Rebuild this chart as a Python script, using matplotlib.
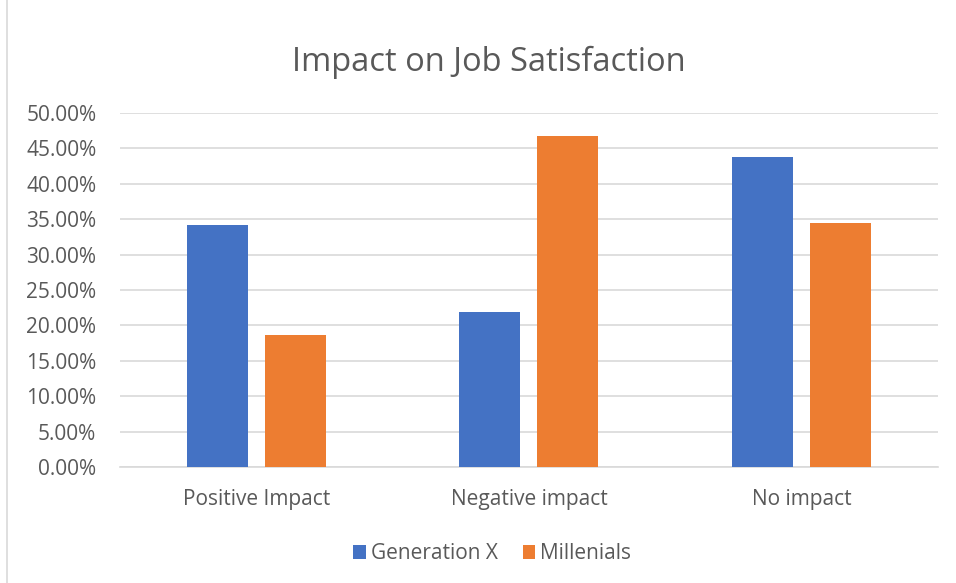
import matplotlib
matplotlib.use("Agg")
import matplotlib.pyplot as plt
import numpy as np
from matplotlib.ticker import FuncFormatter, MultipleLocator
from matplotlib.patches import Rectangle

categories = ["Positive Impact", "Negative impact", "No impact"]
gen_x = [34.2, 21.9, 43.8]
millenials = [18.6, 46.7, 34.5]
series_names = ["Generation X", "Millenials"]

plt.rcParams['font.family'] = ['Open Sans', 'DejaVu Sans']
text_color = "#595959"

fig = plt.figure(figsize=(9.56, 5.83), dpi=100)
ax = fig.add_axes([0.1255, 0.199, 0.8555, 0.607])

x = np.arange(len(categories))
w = 0.224
off = 0.143
ax.bar(x - off, gen_x, width=w, color="#4472C4", label=series_names[0], zorder=3)
ax.bar(x + off, millenials, width=w, color="#ED7D31", label=series_names[1], zorder=3)

ax.set_xlim(-0.5, 2.5)
ax.set_ylim(0, 50)
ax.yaxis.set_major_locator(MultipleLocator(5))
ax.yaxis.set_major_formatter(FuncFormatter(lambda v, p: f"{v:.2f}%"))
ax.grid(axis='y', color="#D9D9D9", linewidth=1.2, zorder=0)
ax.set_xticks(x)
ax.set_xticklabels(categories)
for s in ["top", "right", "left"]:
    ax.spines[s].set_visible(False)
ax.spines["bottom"].set_color("#D9D9D9")
ax.spines["bottom"].set_linewidth(1.2)
ax.tick_params(axis='both', length=0, labelsize=15, labelcolor=text_color)
ax.tick_params(axis='x', pad=16)
ax.tick_params(axis='y', pad=17)

fig.text(0.511, 0.893, "Impact on Job Satisfaction", ha='center', va='center',
         fontsize=23.5, color=text_color)

leg = fig.legend(loc='center', bbox_to_anchor=(0.515, 0.05), ncol=2, frameon=False,
                 fontsize=15, handlelength=0.6, handleheight=0.6, columnspacing=1.2,
                 handletextpad=0.25)
for t in leg.get_texts():
    t.set_color(text_color)

fig.patches.append(Rectangle((0.007, -0.01), 1.0, 1.02, transform=fig.transFigure,
                             fill=False, edgecolor="#D9D9D9", linewidth=1.2))

fig.savefig("out.png", dpi=100)
